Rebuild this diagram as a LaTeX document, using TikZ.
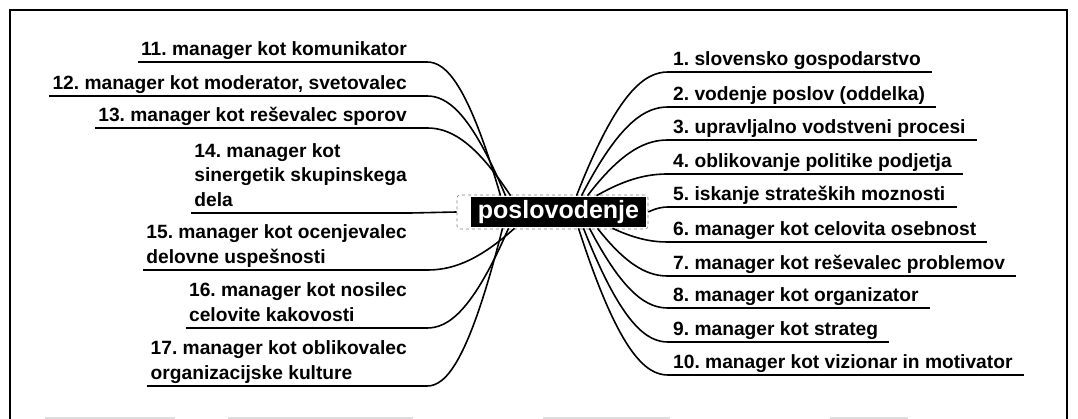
\documentclass[tikz,border=0pt]{standalone}
\usepackage{fontspec}
\setmainfont{Liberation Sans}
\usetikzlibrary{calc}
\begin{document}
\begin{tikzpicture}[x=1pt,y=-1pt,
  lbl/.style={font=\bfseries\fontsize{19.2}{24.5}\selectfont\frenchspacing, inner ysep=0.5pt, text depth=6pt},
  rlbl/.style={lbl, anchor=south west, inner xsep=5pt, execute at end node={\hspace*{6pt}}},
  llbl/.style={lbl, anchor=south east, inner xsep=3pt, align=left},
  uline/.style={line width=1.6pt},
  conn/.style={line width=1.6pt, to path={let \p1=(\tikztostart), \p2=(\tikztotarget) in
     .. controls ({\x1+0.45*(\x2-\x1)},{\y1+0.85*(\y2-\y1)}) and ({\x2-0.25*(\x2-\x1)},\y2) .. (\tikztotarget)}},
  connL/.style={line width=1.6pt, to path={let \p1=(\tikztostart), \p2=($(\tikztotarget)+(17,0)$) in
     .. controls ({\x1+0.45*(\x2-\x1)},{\y1+0.85*(\y2-\y1)}) and ({\x2-0.25*(\x2-\x1)},\y2) .. (\p2) -- (\tikztotarget)}},
  hubframe/.style={draw=gray, dashed, line width=0.6pt, rounded corners=3pt, fill=white, minimum width=191pt, minimum height=34pt, inner sep=0pt},
  hubtext/.style={fill=black, text=white, font=\bfseries\fontsize{25}{27}\selectfont, minimum width=175pt, minimum height=30pt, inner sep=0pt},
  frame/.style={line width=2pt},
  ghost/.style={gray!25, line width=1.5pt}
]
\useasboundingbox (0,0) rectangle (1078,419);
% outer frame
\draw[frame] (10,419) -- (10,10) -- (1067,10) -- (1067,419);
\draw[ghost] (45,418) -- (175,418) (228,418) -- (413,418) (543,418) -- (670,418) (830,418) -- (908,418);

% hub
\node[hubframe] (hubframe) at (552.5,212) {};
\node[hubtext] (hub) at (558.5,212) {poslovodenje};

% right labels
\node[rlbl] (r1) at (668,72) {1. slovensko gospodarstvo};
\node[rlbl] (r2) at (668,107) {2. vodenje poslov (oddelka)};
\node[rlbl] (r3) at (668,140) {3. upravljalno vodstveni procesi};
\node[rlbl] (r4) at (668,174) {4. oblikovanje politike podjetja};
\node[rlbl] (r5) at (668,207) {5. iskanje strateških moznosti};
\node[rlbl] (r6) at (668,242) {6. manager kot celovita osebnost};
\node[rlbl] (r7) at (668,276) {7. manager kot reševalec problemov};
\node[rlbl] (r8) at (668,308) {8. manager kot organizator};
\node[rlbl] (r9) at (668,342) {9. manager kot strateg};
\node[rlbl] (r10) at (668,375) {10. manager kot vizionar in motivator};

% left labels
\node[llbl] (l11) at (410,62) {11. manager kot komunikator};
\node[llbl] (l12) at (410,96) {12. manager kot moderator, svetovalec};
\node[llbl] (l13) at (410,128) {13. manager kot reševalec sporov};
\node[llbl] (l14) at (410,213) {14. manager kot\\sinergetik skupinskega\\dela};
\node[llbl] (l15) at (410,270) {15. manager kot ocenjevalec\\delovne uspešnosti};
\node[llbl] (l16) at (410,328) {16. manager kot nosilec\\celovite kakovosti};
\node[llbl] (l17) at (410,386) {17. manager kot oblikovalec\\organizacijske kulture};

% underlines
\foreach \n in {r1,r2,r3,r4,r5,r6,r7,r8,r9,r10,l11,l12,l13,l14,l15,l16,l17}
  \draw[uline] (\n.south west) -- (\n.south east);

% hub ports
\coordinate (pR1) at ($(hubframe.north)+(24,1)$);
\coordinate (pR2) at ($(hubframe.north)+(29,1)$);
\coordinate (pR3) at ($(hubframe.north)+(35,1)$);
\coordinate (pR4) at ($(hubframe.north)+(44,1)$);
\coordinate (pR6) at ($(hubframe.south)+(60,-1)$);
\coordinate (pR7) at ($(hubframe.south)+(45,-1)$);
\coordinate (pR8) at ($(hubframe.south)+(37,-1)$);
\coordinate (pR9) at ($(hubframe.south)+(31,-1)$);
\coordinate (pR10) at ($(hubframe.south)+(26,-1)$);
\coordinate (pL11) at ($(hubframe.north)+(-52,1)$);
\coordinate (pL12) at ($(hubframe.north)+(-47,1)$);
\coordinate (pL13) at ($(hubframe.north)+(-42,1)$);
\coordinate (pL15) at ($(hubframe.south)+(-38,-1)$);
\coordinate (pL16) at ($(hubframe.south)+(-44,-1)$);
\coordinate (pL17) at ($(hubframe.south)+(-50,-1)$);

% connectors
\foreach \i in {1,2,3,4,6,7,8,9,10}
  \draw[conn] (pR\i) to (r\i.south west);
\draw[conn] (hubframe.east) to (r5.south west);
\foreach \i in {11,12,13,15,16,17}
  \draw[connL] (pL\i) to (l\i.south east);
\draw[uline] (hubframe.west) -- (l14.south east);
\end{tikzpicture}
\end{document}
